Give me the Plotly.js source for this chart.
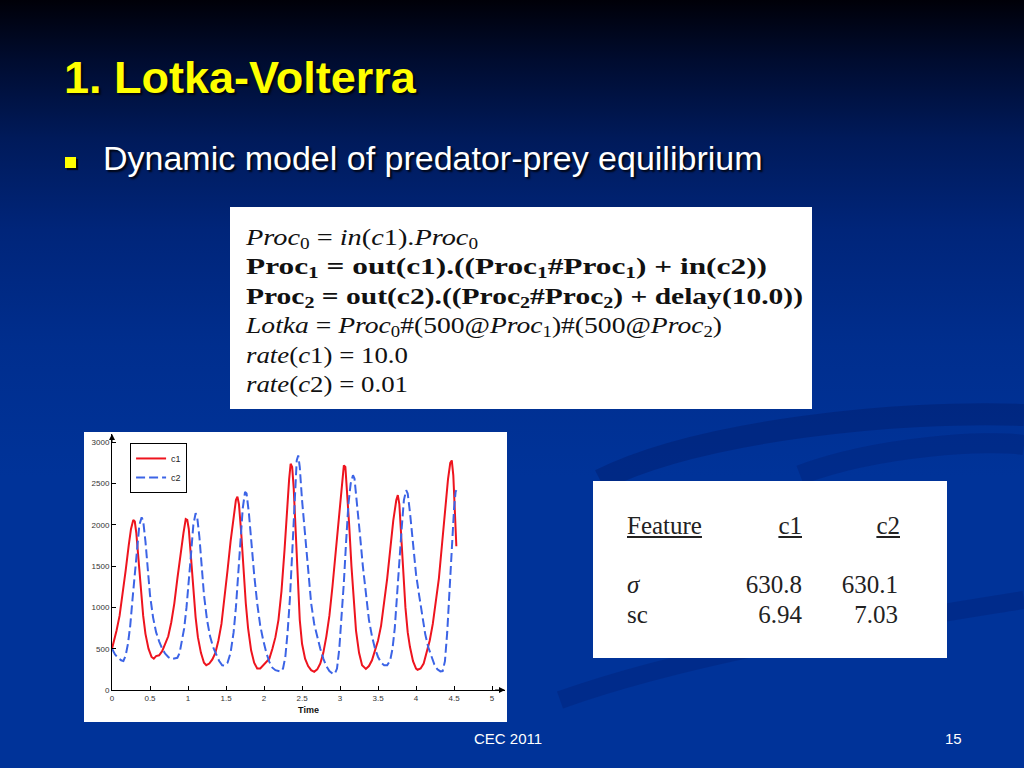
<!DOCTYPE html>
<html>
<head>
<meta charset="utf-8">
<script src="https://cdn.plot.ly/plotly-3.0.1.min.js"></script>
<style>
  html, body { margin:0; padding:0; }
  body { width:1024px; height:768px; overflow:hidden; position:relative;
    background: linear-gradient(to bottom, #000008 0%, #000c30 8%, #001a5a 18%, #00257a 30%, #002e8e 45%, #003399 62%, #003399 100%);
    font-family: "Liberation Sans", Arial, sans-serif; }
  .abs { position:absolute; }
  #title { left:64px; top:52px; font-size:45px; font-weight:bold; color:#ffff00; white-space:nowrap;
    text-shadow: 2px 2px 2px rgba(0,0,0,0.85); }
  #bullet { left:65px; top:157px; width:11px; height:11px; background:#ffff00; box-shadow: 2px 2px 1px rgba(0,0,0,0.8); }
  #sub { left:103px; top:139px; font-size:34px; color:#ffffff; white-space:nowrap;
    text-shadow: 2px 2px 2px rgba(0,0,0,0.85); }
  #eqbox { left:230px; top:207px; width:582px; height:202px; background:#fff; }
  #eq { left:246px; top:223px; font-family:"Liberation Serif", "Times New Roman", serif; font-size:24px; line-height:29.4px; color:#111; white-space:nowrap; }
  #eq .ln { display:block; }
  #eq .ln span.in { display:inline-block; transform-origin: 0 50%; }
  #eq sub { font-size:68%; line-height:0; vertical-align:-0.25em; }
  #tabbox { left:593px; top:481px; width:354px; height:177px; background:#fff; }
  .tt { font-family:"Liberation Serif", "Times New Roman", serif; font-size:25px; color:#222; white-space:nowrap; }
  #chartbox { left:84px; top:432px; width:423px; height:290px; background:#fff; }
  #chart { left:84px; top:432px; width:423px; height:290px; }
  .foot { font-size:15px; color:#fff; }
</style>
</head>
<body>
<svg class="abs" style="left:0;top:0" width="1024" height="768">
  <path d="M 600 480 C 700 430, 900 410, 1024 415" stroke="rgba(0,20,90,0.3)" stroke-width="22" fill="none"/>
  <path d="M 800 475 C 880 445, 990 440, 1024 445" stroke="rgba(0,20,90,0.22)" stroke-width="20" fill="none"/>
  <path d="M 560 700 C 700 650, 900 620, 1024 600" stroke="rgba(0,20,90,0.22)" stroke-width="18" fill="none"/>
</svg>

<div id="title" class="abs">1. Lotka-Volterra</div>
<div id="bullet" class="abs"></div>
<div id="sub" class="abs">Dynamic model of predator-prey equilibrium</div>

<div id="eqbox" class="abs"></div>
<div id="eq" class="abs">
  <div class="ln" data-w="232"><span class="in"><i>Proc</i><sub>0</sub> = <i>in</i>(<i>c</i>1).<i>Proc</i><sub>0</sub></span></div>
  <div class="ln" data-w="521"><span class="in"><b>Proc<sub>1</sub> = out(c1).((Proc<sub>1</sub>#Proc<sub>1</sub>) + in(c2))</b></span></div>
  <div class="ln" data-w="557"><span class="in"><b>Proc<sub>2</sub> = out(c2).((Proc<sub>2</sub>#Proc<sub>2</sub>) + delay(10.0))</b></span></div>
  <div class="ln" data-w="476"><span class="in"><i>Lotka</i> = <i>Proc</i><sub>0</sub>#(500@<i>Proc</i><sub>1</sub>)#(500@<i>Proc</i><sub>2</sub>)</span></div>
  <div class="ln" data-w="162"><span class="in"><i>rate</i>(<i>c</i>1) = 10.0</span></div>
  <div class="ln" data-w="162"><span class="in"><i>rate</i>(<i>c</i>2) = 0.01</span></div>
</div>

<div id="tabbox" class="abs"></div>
<div class="abs tt" style="left:627px;top:512px;text-decoration:underline;">Feature</div>
<div class="abs tt" style="left:702px;width:100px;top:512px;text-align:right;text-decoration:underline;">c1</div>
<div class="abs tt" style="left:800px;width:100px;top:512px;text-align:right;text-decoration:underline;">c2</div>
<div class="abs tt" style="left:627px;top:571px;"><i>σ</i></div>
<div class="abs tt" style="left:702px;width:100px;top:571px;text-align:right;">630.8</div>
<div class="abs tt" style="left:798px;width:100px;top:571px;text-align:right;">630.1</div>
<div class="abs tt" style="left:627px;top:601px;">sc</div>
<div class="abs tt" style="left:702px;width:100px;top:601px;text-align:right;">6.94</div>
<div class="abs tt" style="left:798px;width:100px;top:601px;text-align:right;">7.03</div>

<div id="chartbox" class="abs"></div>
<div id="chart" class="abs"></div>

<div class="abs foot" style="left:474px;top:730px;">CEC 2011</div>
<div class="abs foot" style="left:945px;top:730px;">15</div>

<script>
// stretch each equation line to the width it has in the reference
document.querySelectorAll('#eq .ln').forEach(function (ln) {
  var s = ln.querySelector('.in');
  var w = s.getBoundingClientRect().width;
  var target = parseFloat(ln.getAttribute('data-w'));
  if (w > 0) s.style.transform = 'scaleX(' + (target / w) + ')';
});

// Time points and population counts
var t1 = [0.00,0.03,0.06,0.10,0.14,0.18,0.22,0.25,0.28,0.30,0.32,0.35,0.38,0.41,0.44,0.48,0.52,0.55,0.58,0.62,0.66,0.70,0.74,0.78,0.82,0.86,0.90,0.94,0.97,0.99,
          1.01,1.04,1.07,1.10,1.13,1.17,1.21,1.24,1.28,1.32,1.36,1.40,1.44,1.48,1.52,1.56,1.60,1.63,1.65,1.67,1.70,1.73,1.76,1.79,1.83,1.87,1.91,1.95,1.99,
          2.03,2.07,2.11,2.15,2.19,2.23,2.27,2.30,2.33,2.35,2.37,2.39,2.41,2.44,2.47,2.50,2.54,2.58,2.62,2.66,2.70,2.74,2.78,2.82,2.86,2.90,2.94,2.98,
          3.02,3.05,3.07,3.09,3.12,3.15,3.18,3.21,3.25,3.29,3.34,3.38,3.42,3.46,3.50,3.54,3.58,3.62,3.66,3.70,3.74,3.76,3.78,3.80,3.83,3.86,3.89,3.92,3.96,
          4.00,4.02,4.06,4.10,4.14,4.18,4.22,4.26,4.30,4.34,4.38,4.42,4.45,4.47,4.49,4.51,4.53];
var c1 = [500,600,720,900,1150,1450,1750,1950,2060,2040,1900,1550,1200,900,680,500,400,380,410,420,470,550,650,820,1050,1350,1650,1900,2070,2060,
          1950,1600,1200,880,640,450,330,300,320,370,450,600,800,1100,1450,1800,2100,2300,2340,2250,1900,1450,1050,750,480,330,260,260,300,
          330,380,500,640,850,1200,1700,2150,2550,2740,2700,2450,2000,1400,850,560,380,290,240,220,250,320,450,650,900,1250,1650,2100,
          2500,2720,2700,2450,2000,1500,1050,720,450,300,255,290,360,480,600,780,1050,1350,1700,2050,2300,2360,2250,1950,1450,1000,700,520,350,
          260,245,260,320,450,600,800,1050,1350,1750,2200,2550,2750,2780,2600,2200,1740];

var t2 = [0.00,0.04,0.08,0.12,0.15,0.18,0.21,0.24,0.27,0.30,0.33,0.36,0.39,0.41,0.44,0.47,0.50,0.54,0.58,0.62,0.66,0.70,0.74,0.78,0.82,0.86,0.89,0.92,0.95,0.98,
          1.01,1.04,1.07,1.10,1.12,1.15,1.18,1.21,1.25,1.29,1.33,1.37,1.41,1.45,1.48,1.52,1.56,1.60,1.63,1.66,1.69,1.72,1.75,1.77,1.80,1.83,1.87,1.91,1.95,1.99,
          2.03,2.07,2.11,2.15,2.19,2.22,2.25,2.28,2.31,2.34,2.37,2.40,2.43,2.45,2.47,2.50,2.54,2.58,2.62,2.66,2.70,2.74,2.78,2.82,2.86,2.90,2.93,2.96,2.99,
          3.02,3.05,3.08,3.11,3.14,3.17,3.19,3.22,3.26,3.30,3.34,3.38,3.42,3.46,3.50,3.54,3.58,3.62,3.66,3.69,3.72,3.75,3.78,3.81,3.84,3.87,3.89,3.92,3.96,
          4.00,4.04,4.08,4.12,4.16,4.20,4.24,4.28,4.32,4.35,4.38,4.41,4.44,4.47,4.50,4.52,4.53];
var c2 = [500,430,390,360,350,420,560,780,1100,1420,1750,2000,2090,2050,1800,1450,1150,880,700,590,500,440,400,375,380,390,450,580,750,1000,
          1300,1650,2000,2140,2100,1850,1500,1150,850,650,520,430,350,300,295,330,450,700,1000,1400,1800,2200,2400,2380,2150,1800,1400,1050,780,600,
          450,340,270,240,225,222,260,400,700,1100,1650,2300,2780,2840,2700,2300,1850,1400,1050,800,640,500,380,290,230,200,195,260,500,
          850,1300,1800,2250,2500,2600,2560,2300,1900,1500,1150,850,650,500,400,330,300,300,360,500,750,1100,1550,1950,2300,2420,2380,2150,1800,
          1400,1150,900,680,520,400,310,250,225,230,350,700,1200,1800,2200,2400,2420];

var seriesNames = ['c1', 'c2'];
var xTicks = [0, 0.5, 1, 1.5, 2, 2.5, 3, 3.5, 4, 4.5, 5];
var xTickText = ['0', '0.5', '1', '1.5', '2', '2.5', '3', '3.5', '4', '4.5', '5'];
var yTicks = [0, 500, 1000, 1500, 2000, 2500, 3000];

var traces = [
  {x: t1, y: c1, name: seriesNames[0], type: 'scatter', mode: 'lines',
   line: {color: 'rgb(238,20,30)', width: 2}},
  {x: t2, y: c2, name: seriesNames[1], type: 'scatter', mode: 'lines',
   line: {color: 'rgb(60,100,230)', width: 2, dash: '9px,4px'}}
];

var layout = {
  width: 423, height: 290,
  margin: {l: 28, r: 2, t: 2, b: 32},
  paper_bgcolor: 'rgba(0,0,0,0)', plot_bgcolor: 'rgba(0,0,0,0)',
  font: {family: '"Liberation Sans", Arial, sans-serif', size: 8, color: '#333'},
  showlegend: true,
  legend: {x: 0.046, y: 0.965, xanchor: 'left', yanchor: 'top', bgcolor: '#fff',
           bordercolor: '#000', borderwidth: 1, font: {size: 9, color: '#222'},
           itemwidth: 30, tracegroupgap: 0},
  xaxis: {range: [0, 5.17], tickvals: xTicks, ticktext: xTickText, ticks: 'inside', ticklen: 4,
          tickcolor: '#000', showline: true, linecolor: '#000', linewidth: 1, showgrid: false,
          zeroline: false, fixedrange: true,
          title: {text: '<b>Time</b>', font: {size: 9, color: '#111'}, standoff: 5}},
  yaxis: {range: [0, 3100], tickvals: yTicks, ticks: 'inside', ticklen: 4,
          tickcolor: '#000', showline: true, linecolor: '#000', linewidth: 1, showgrid: false,
          zeroline: false, fixedrange: true},
  annotations: [
    {x: 5.17, y: 0, ax: 5.02, ay: 0, xref: 'x', yref: 'y', axref: 'x', ayref: 'y', text: '',
     showarrow: true, arrowhead: 2, arrowsize: 1.2, arrowwidth: 1, arrowcolor: '#000'},
    {x: 0, y: 3100, ax: 0, ay: 2980, xref: 'x', yref: 'y', axref: 'x', ayref: 'y', text: '',
     showarrow: true, arrowhead: 2, arrowsize: 1.2, arrowwidth: 1, arrowcolor: '#000'}
  ]
};

Plotly.newPlot('chart', traces, layout, {displayModeBar: false, staticPlot: true});
</script>
</body>
</html>
